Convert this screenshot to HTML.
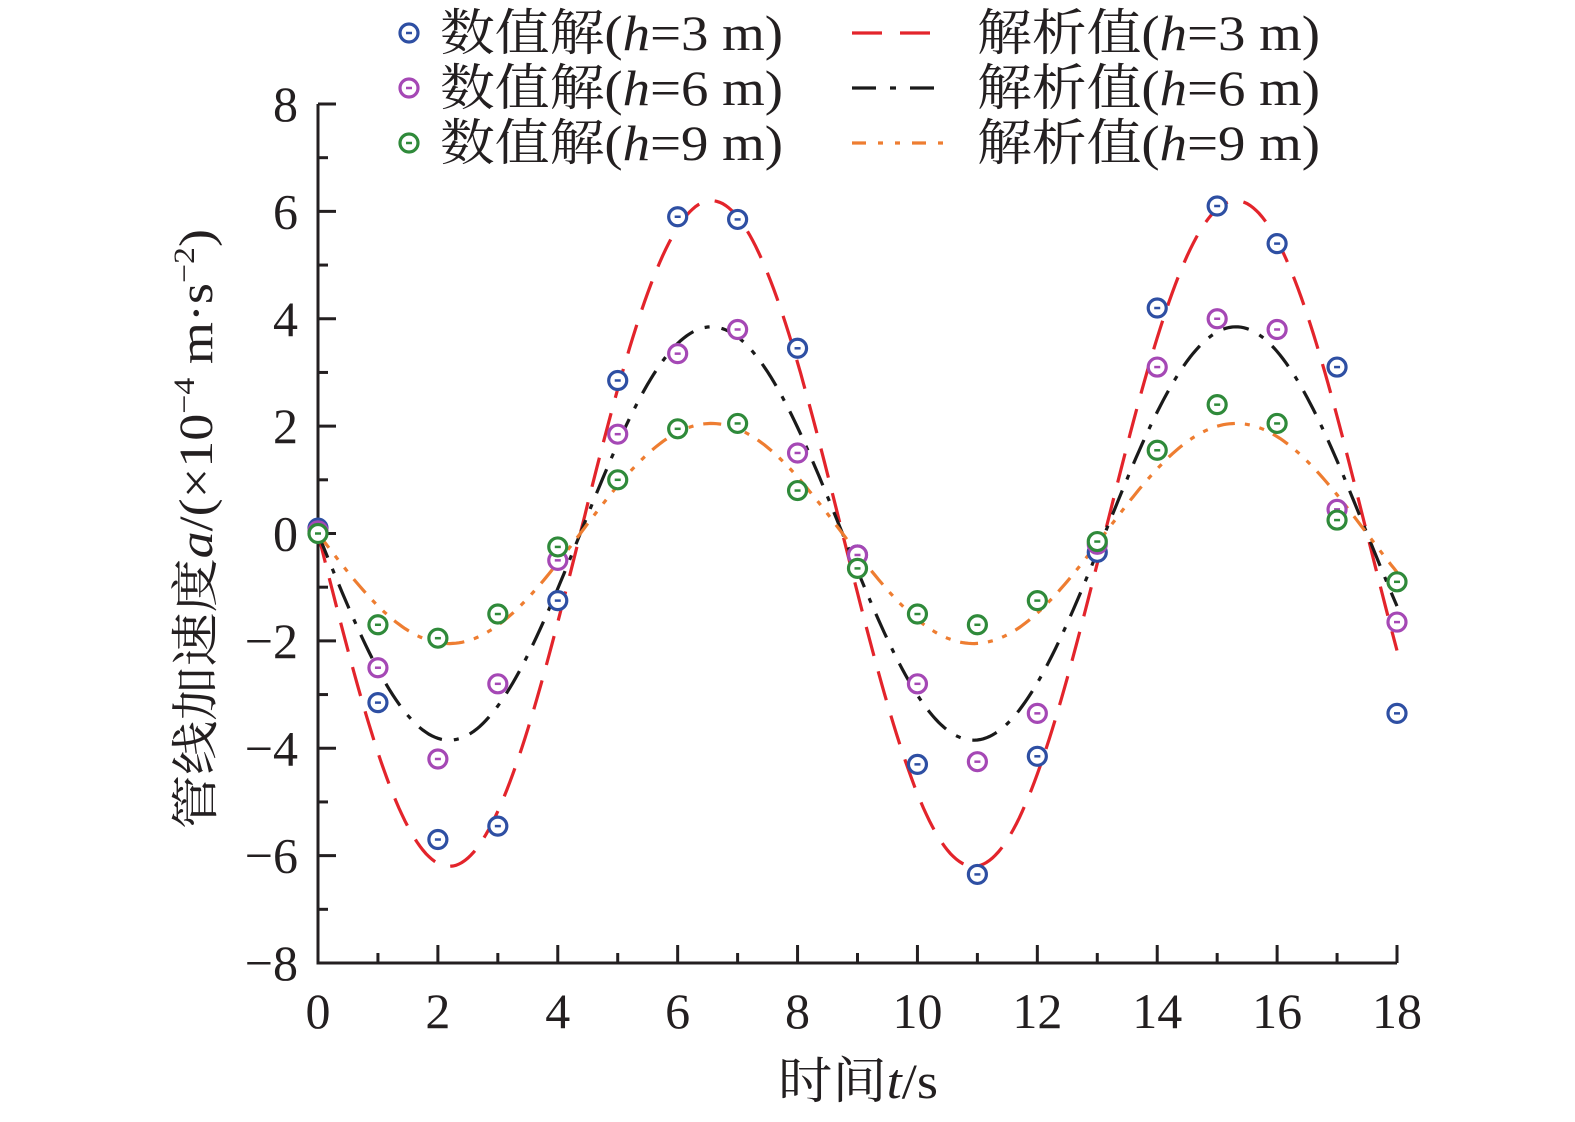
<!DOCTYPE html>
<html><head><meta charset="utf-8"><style>
html,body{margin:0;padding:0;background:#fff}
svg{display:block}
text{font-family:"Liberation Serif","Noto Serif CJK SC","Noto Sans CJK SC",serif;fill:#231f20}
</style></head><body>
<svg id="s" width="1575" height="1122" viewBox="0 0 1575 1122" xmlns="http://www.w3.org/2000/svg"></svg>
<script>
const s=document.getElementById('s');
const X=t=>318+t*(1397-318)/18, Y=v=>533.5-v*(963-104)/16;
let h='';
const curves=[[6.2,'#e3242b','30 16'],[3.85,'#1a1a1a','26 12 5 12'],[2.05,'#ee7d31','18 10 5 10 5 10']];
for(const [A,c,d] of curves){let p=[];for(let t=0;t<=18.001;t+=0.05){p.push(X(t).toFixed(1)+','+Y(-A*Math.sin(2*Math.PI*t/8.75)).toFixed(1));}
h+=`<polyline points="${p.join(' ')}" fill="none" stroke="${c}" stroke-width="3.2" stroke-dasharray="${d}"/>`;}
h+=`<path d="M318,104V963H1397" fill="none" stroke="#231f20" stroke-width="3"/>`;
for(let v=-8;v<=8;v++){const y=Y(v);h+=`<line x1="318" x2="${v%2==0?336:328}" y1="${y}" y2="${y}" stroke="#231f20" stroke-width="3"/>`;
if(v%2==0)h+=`<text x="298" y="${y+17}" font-size="50" text-anchor="end">${v<0?'−'+(-v):v}</text>`;}
for(let t=0;t<=18;t++){const x=X(t);h+=`<line x1="${x}" x2="${x}" y1="963" y2="${t%2==0?945:953}" stroke="#231f20" stroke-width="3"/>`;
if(t%2==0)h+=`<text x="${x}" y="1028" font-size="50" text-anchor="middle">${t}</text>`;}
const B=[0.1,-3.15,-5.7,-5.45,-1.25,2.85,5.9,5.85,3.45,-0.4,-4.3,-6.35,-4.15,-0.35,4.2,6.1,5.4,3.1,-3.35];
const P=[0.05,-2.5,-4.2,-2.8,-0.5,1.85,3.35,3.8,1.5,-0.4,-2.8,-4.25,-3.35,-0.2,3.1,4.0,3.8,0.45,-1.65];
const G=[0,-1.7,-1.95,-1.5,-0.25,1.0,1.95,2.05,0.8,-0.65,-1.5,-1.7,-1.25,-0.15,1.55,2.4,2.05,0.25,-0.9];
function mk(x,y,c){return `<circle cx="${x}" cy="${y}" r="9" fill="#fff" stroke="${c}" stroke-width="3.2"/><line x1="${x-3}" x2="${x+3}" y1="${y}" y2="${y}" stroke="${c}" stroke-width="2.5"/>`;}
for(const [d,c] of [[B,'#2e4fa3'],[P,'#a548b5'],[G,'#2f8a3a']])d.forEach((v,i)=>h+=mk(X(i),Y(v),c));
const nums=['3','6','9'],mc=['#2e4fa3','#a548b5','#2f8a3a'];
for(let i=0;i<3;i++){const cy=33+i*55;
h+=mk(409,cy,mc[i]);
h+=`<text x="440" y="${cy+17}" font-size="50" textLength="343" lengthAdjust="spacingAndGlyphs">数值解(<tspan font-style="italic">h</tspan>=${nums[i]} m)</text>`;
h+=`<line x1="852" x2="946" y1="${cy}" y2="${cy}" stroke="${curves[i][1]}" stroke-width="3.2" stroke-dasharray="${['30 18','24 14 6 14','14 12 5 12 5 12'][i]}"/>`;
h+=`<text x="977" y="${cy+17}" font-size="50" textLength="343" lengthAdjust="spacingAndGlyphs">解析值(<tspan font-style="italic">h</tspan>=${nums[i]} m)</text>`;}
h+=`<text x="858" y="1098" font-size="50" text-anchor="middle" textLength="160" lengthAdjust="spacingAndGlyphs">时间<tspan font-style="italic">t</tspan>/s</text>`;
h+=`<text transform="translate(212,529) rotate(-90)" font-size="48" text-anchor="middle" textLength="600" lengthAdjust="spacingAndGlyphs">管线加速度<tspan font-style="italic">a</tspan>/(×10<tspan dy="-18" font-size="30">−4</tspan><tspan dy="18"> m·s</tspan><tspan dy="-18" font-size="30">−2</tspan><tspan dy="18">)</tspan></text>`;
s.innerHTML=h;
</script>
</body></html>
